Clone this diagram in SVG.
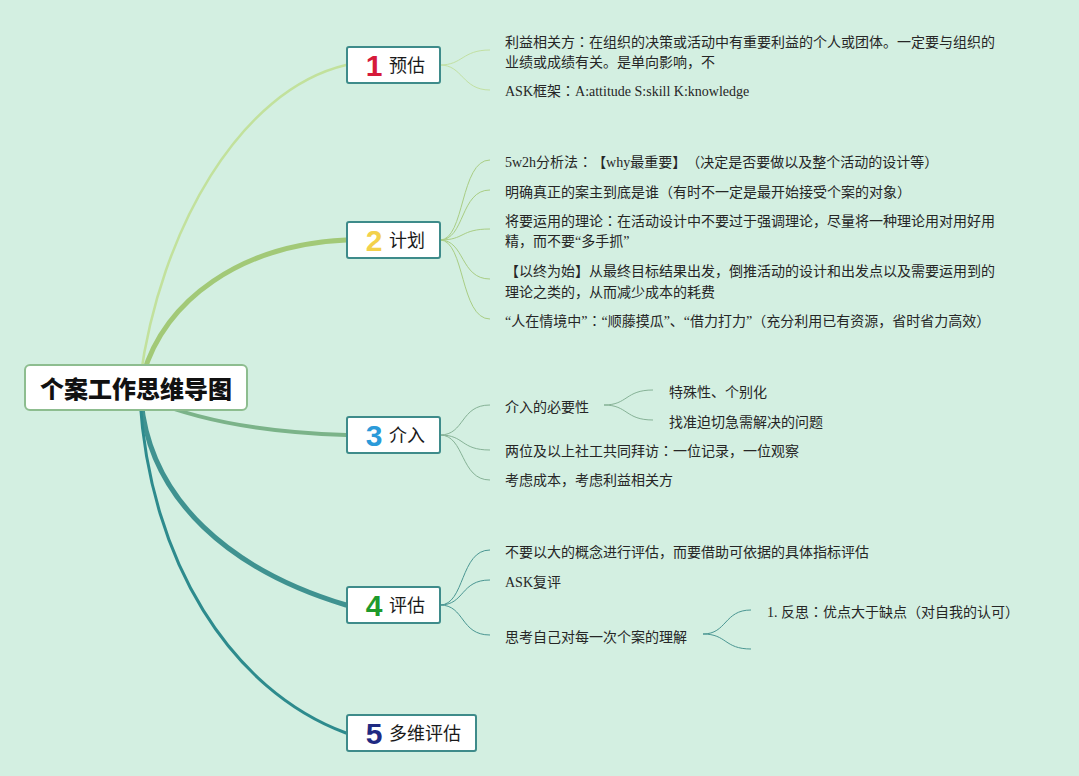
<svg xmlns="http://www.w3.org/2000/svg" width="1079" height="776" viewBox="0 0 1079 776">
<style>
.bg{fill:#d3efe1}
.node{fill:#ffffff;stroke:#3e8b8a;stroke-width:2}
.root{fill:#ffffff;stroke:#8dbd8f;stroke-width:2}
.num{font-family:"Liberation Sans",Arial,sans-serif;font-weight:bold;font-size:30px;text-anchor:middle}
.nt{font-family:"Noto Sans CJK SC",sans-serif;font-size:18px;fill:#1a1a1a}
.rt{font-family:"Noto Sans CJK SC",sans-serif;font-size:24px;font-weight:900;fill:#111;text-anchor:middle}
.t{font-family:"Liberation Serif","Noto Sans CJK SC",serif;font-size:14px;fill:#262626;text-spacing-trim:space-all}
.cl{font-family:"Noto Sans CJK JP",sans-serif}
.c{fill:none;stroke-linecap:round}
</style>
<rect class="bg" x="0" y="0" width="1079" height="776"/>
<g id="connectors">
  <path class="c" d="M140,380 C160,230 240,90 346,65" stroke="#c2e19c" stroke-width="2.5"/>
  <path class="c" d="M143,375 C165,300 240,245 346,240" stroke="#a2c977" stroke-width="5"/>
  <path class="c" d="M150,400 C210,425 280,433 346,435" stroke="#7bb389" stroke-width="4"/>
  <path class="c" d="M141,400 C150,500 230,570 346,605" stroke="#3f9290" stroke-width="5"/>
  <path class="c" d="M140,400 C150,560 230,690 346,733" stroke="#2d8b8d" stroke-width="3"/>
  <g stroke="#c2e0a2" stroke-width="1" fill="none">
    <path d="M440,65 C463,65 462,50 490,50"/>
    <path d="M440,65 C463,65 462,90 490,90"/>
  </g>
  <g stroke="#a9cd84" stroke-width="1" fill="none">
    <path d="M440,240 C465,240 460,160 490,160"/>
    <path d="M440,240 C465,240 460,190 490,190"/>
    <path d="M440,240 C465,240 460,229 490,229"/>
    <path d="M440,240 C465,240 460,279 490,279"/>
    <path d="M440,240 C465,240 460,319 490,319"/>
  </g>
  <g stroke="#86b296" stroke-width="1" fill="none">
    <path d="M440,435 C465,435 460,405 490,405"/>
    <path d="M440,435 C465,435 460,450 490,450"/>
    <path d="M440,435 C465,435 460,480 490,480"/>
    <path d="M604,405 C628,405 625,390 653,390"/>
    <path d="M604,405 C628,405 625,420 653,420"/>
  </g>
  <g stroke="#4a9692" stroke-width="1" fill="none">
    <path d="M440,605 C465,605 460,550 490,550"/>
    <path d="M440,605 C465,605 460,580 490,580"/>
    <path d="M440,605 C465,605 460,635 490,635"/>
    <path d="M703,634 C727,634 724,610 751,610"/>
    <path d="M703,634 C727,634 724,649 751,649"/>
  </g>
</g>
<g id="root">
  <rect class="root" x="25" y="365" width="222" height="45" rx="5"/>
  <text class="rt" x="136" y="398">个案工作思维导图</text>
</g>
<g id="node1">
  <rect class="node" x="347" y="47" width="93" height="36" rx="2"/>
  <text class="num" x="374" y="76" fill="#d61a3a">1</text>
  <text class="nt" x="389" y="72">预估</text>
</g>
<g id="node2">
  <rect class="node" x="347" y="222" width="93" height="36" rx="2"/>
  <text class="num" x="374" y="251" fill="#f3d14b">2</text>
  <text class="nt" x="389" y="247">计划</text>
</g>
<g id="node3">
  <rect class="node" x="347" y="417" width="93" height="36" rx="2"/>
  <text class="num" x="374" y="446" fill="#2b9ad9">3</text>
  <text class="nt" x="389" y="442">介入</text>
</g>
<g id="node4">
  <rect class="node" x="347" y="587" width="93" height="36" rx="2"/>
  <text class="num" x="374" y="616" fill="#1e9a2c">4</text>
  <text class="nt" x="389" y="612">评估</text>
</g>
<g id="node5">
  <rect class="node" x="347" y="715" width="129" height="36" rx="2"/>
  <text class="num" x="374" y="744" fill="#1f2a82">5</text>
  <text class="nt" x="389" y="740">多维评估</text>
</g>
<g id="topics1">
  <text class="t" x="505" y="47">利益相关方<tspan class="cl">：</tspan>在组织的决策或活动中有重要利益的个人或团体。一定要与组织的</text>
  <text class="t" x="505" y="67">业绩或成绩有关。是单向影响，不</text>
  <text class="t" x="505" y="96">ASK框架<tspan class="cl">：</tspan>A:attitude S:skill K:knowledge</text>
</g>
<g id="topics2">
  <text class="t" x="505" y="167">5w2h分析法<tspan class="cl">：</tspan>【why最重要】（决定是否要做以及整个活动的设计等）</text>
  <text class="t" x="505" y="197">明确真正的案主到底是谁（有时不一定是最开始接受个案的对象）</text>
  <text class="t" x="505" y="226">将要运用的理论<tspan class="cl">：</tspan>在活动设计中不要过于强调理论，尽量将一种理论用对用好用</text>
  <text class="t" x="505" y="246">精，而不要“多手抓”</text>
  <text class="t" x="505" y="276">【以终为始】从最终目标结果出发，倒推活动的设计和出发点以及需要运用到的</text>
  <text class="t" x="505" y="297">理论之类的，从而减少成本的耗费</text>
  <text class="t" x="505" y="326">“人在情境中”<tspan class="cl">：</tspan>“顺藤摸瓜”、“借力打力”（充分利用已有资源，省时省力高效）</text>
</g>
<g id="topics3">
  <text class="t" x="505" y="412">介入的必要性</text>
  <text class="t" x="669" y="397">特殊性、个别化</text>
  <text class="t" x="669" y="427">找准迫切急需解决的问题</text>
  <text class="t" x="505" y="456">两位及以上社工共同拜访<tspan class="cl">：</tspan>一位记录，一位观察</text>
  <text class="t" x="505" y="485">考虑成本，考虑利益相关方</text>
</g>
<g id="topics4">
  <text class="t" x="505" y="557">不要以大的概念进行评估，而要借助可依据的具体指标评估</text>
  <text class="t" x="505" y="587">ASK复评</text>
  <text class="t" x="505" y="642">思考自己对每一次个案的理解</text>
  <text class="t" x="767" y="617">1. 反思<tspan class="cl">：</tspan>优点大于缺点（对自我的认可）</text>
</g>
</svg>
